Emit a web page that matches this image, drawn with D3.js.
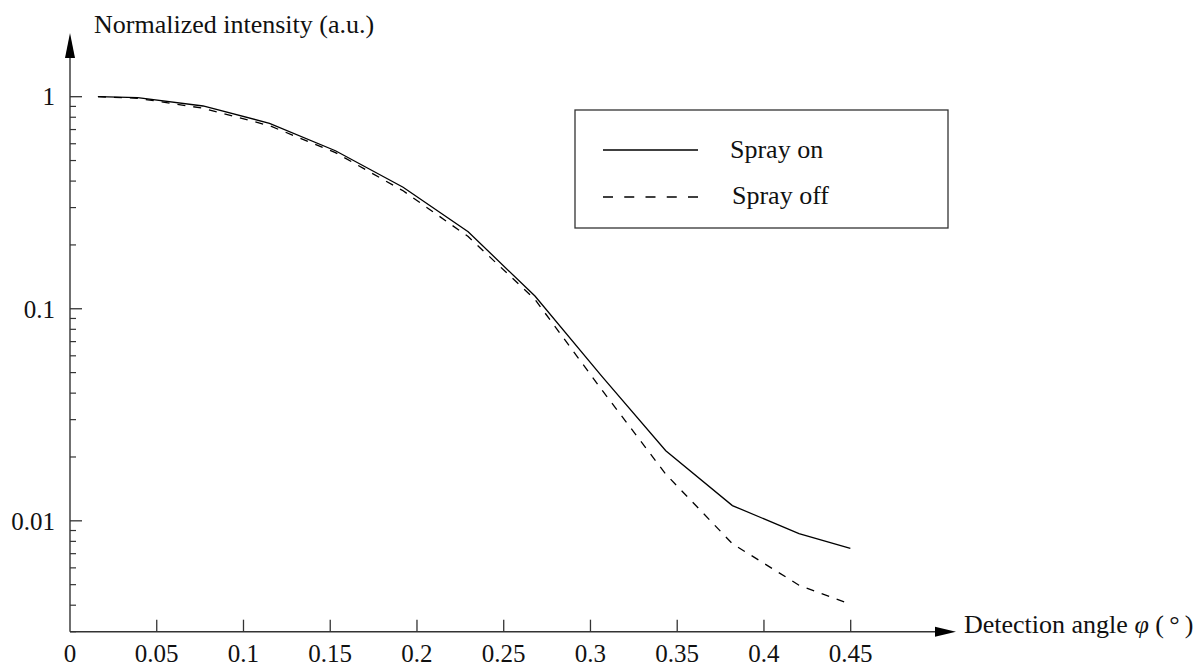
<!DOCTYPE html>
<html>
<head>
<meta charset="utf-8">
<script src="https://cdn.jsdelivr.net/npm/d3@7"></script>
<style>
  html, body { margin: 0; padding: 0; background: #fff; }
  svg text { font-family: "Liberation Serif", "Times New Roman", serif; fill: #111; }
</style>
</head>
<body>
<svg id="chart" width="1197" height="669"></svg>
<script>
// ---- data ----
const angles = [0.0161, 0.039, 0.0767, 0.115, 0.153, 0.192, 0.2295, 0.268, 0.3066, 0.3434, 0.3818, 0.4202, 0.4498];
const sprayOn  = [1.0, 0.99, 0.904, 0.749, 0.556, 0.374, 0.2307, 0.1148, 0.048, 0.0214, 0.0118, 0.0087, 0.00741];
const sprayOff = [1.0, 0.983, 0.882, 0.73, 0.545, 0.36, 0.219, 0.1107, 0.0414, 0.0166, 0.0078, 0.00497, 0.00404];
const seriesNames = ["Spray on", "Spray off"];
const xTickValues = [0, 0.05, 0.1, 0.15, 0.2, 0.25, 0.3, 0.35, 0.4, 0.45];
const xTickLabels = ["0", "0.05", "0.1", "0.15", "0.2", "0.25", "0.3", "0.35", "0.4", "0.45"];
const yMajorValues = [1, 0.1, 0.01];
const yMajorLabels = ["1", "0.1", "0.01"];
const xTitleParts = ["Detection angle ", "\u03C6", " (\u2009\u00B0\u2009)"];
const yTitle = "Normalized intensity (a.u.)";

// ---- layout ----
const X0 = 70, Y0 = 631.7;
const svg = d3.select("#chart");
const x = d3.scaleLinear().domain([0, 0.45]).range([X0, 850.7]);
const y = d3.scaleLog().domain([0.003, 1]).range([Y0, 96.7]);
const axisColor = "#333";

// axes lines with arrows
const g = svg.append("g");
g.append("line").attr("x1", X0).attr("x2", 937).attr("y1", Y0).attr("y2", Y0)
  .attr("stroke", axisColor).attr("stroke-width", 1.4);
g.append("path").attr("d", `M935,${Y0-5} L956,${Y0} L935,${Y0+5} Z`).attr("fill", "#000");
g.append("line").attr("x1", X0).attr("x2", X0).attr("y1", Y0).attr("y2", 55)
  .attr("stroke", axisColor).attr("stroke-width", 1.4);
g.append("path").attr("d", `M${X0-5},58 L${X0},33 L${X0+5},58 Z`).attr("fill", "#000");

// x ticks
xTickValues.forEach((v, i) => {
  if (v > 0) {
    g.append("line").attr("x1", x(v)).attr("x2", x(v)).attr("y1", Y0).attr("y2", Y0 - 12)
      .attr("stroke", axisColor).attr("stroke-width", 1.3);
  }
  g.append("text").attr("x", x(v)).attr("y", 662).attr("text-anchor", "middle")
    .attr("font-size", 25).text(xTickLabels[i]);
});

// y ticks (log, major + minor)
const minor = [];
[1, 0.1, 0.01, 0.001].forEach(dec => {
  for (let k = 2; k <= 9; k++) {
    const v = dec * k / 10;
    if (v >= 0.003 && v < 1) minor.push(v);
  }
});
minor.forEach(v => {
  if (yMajorValues.includes(v)) return;
  g.append("line").attr("x1", X0).attr("x2", X0 + 6).attr("y1", y(v)).attr("y2", y(v))
    .attr("stroke", axisColor).attr("stroke-width", 1.2);
});
yMajorValues.forEach((v, i) => {
  g.append("line").attr("x1", X0).attr("x2", X0 + 12).attr("y1", y(v)).attr("y2", y(v))
    .attr("stroke", axisColor).attr("stroke-width", 1.3);
  g.append("text").attr("x", 55).attr("y", y(v)).attr("dy", "0.35em").attr("text-anchor", "end")
    .attr("font-size", 25).text(yMajorLabels[i]);
});

// axis titles
svg.append("text").attr("x", 94).attr("y", 33).attr("font-size", 26).text(yTitle);
const xt = svg.append("text").attr("x", 964).attr("y", 633).attr("font-size", 26)
  .attr("xml:space", "preserve");
xt.append("tspan").text(xTitleParts[0]);
xt.append("tspan").attr("font-style", "italic").text(xTitleParts[1]);
xt.append("tspan").text(xTitleParts[2]);

// curves
const line = d3.line().x(d => x(d[0])).y(d => y(d[1]));
svg.append("path").datum(angles.map((a, i) => [a, sprayOn[i]]))
  .attr("d", line).attr("fill", "none").attr("stroke", "#000").attr("stroke-width", 1.3);
svg.append("path").datum(angles.map((a, i) => [a, sprayOff[i]]))
  .attr("d", line).attr("fill", "none").attr("stroke", "#000").attr("stroke-width", 1.3)
  .attr("stroke-dasharray", "8,8");

// legend
const lg = svg.append("g");
lg.append("rect").attr("x", 575).attr("y", 110).attr("width", 373).attr("height", 118)
  .attr("fill", "#fff").attr("stroke", axisColor).attr("stroke-width", 1.3);
lg.append("line").attr("x1", 603).attr("x2", 698).attr("y1", 150).attr("y2", 150)
  .attr("stroke", "#000").attr("stroke-width", 1.3);
lg.append("line").attr("x1", 603).attr("x2", 698).attr("y1", 197).attr("y2", 197)
  .attr("stroke", "#000").attr("stroke-width", 1.3).attr("stroke-dasharray", "10,11.25");
lg.append("text").attr("x", 730).attr("y", 158).attr("font-size", 26).text(seriesNames[0]);
lg.append("text").attr("x", 732).attr("y", 204).attr("font-size", 26).text(seriesNames[1]);
</script>
</body>
</html>
